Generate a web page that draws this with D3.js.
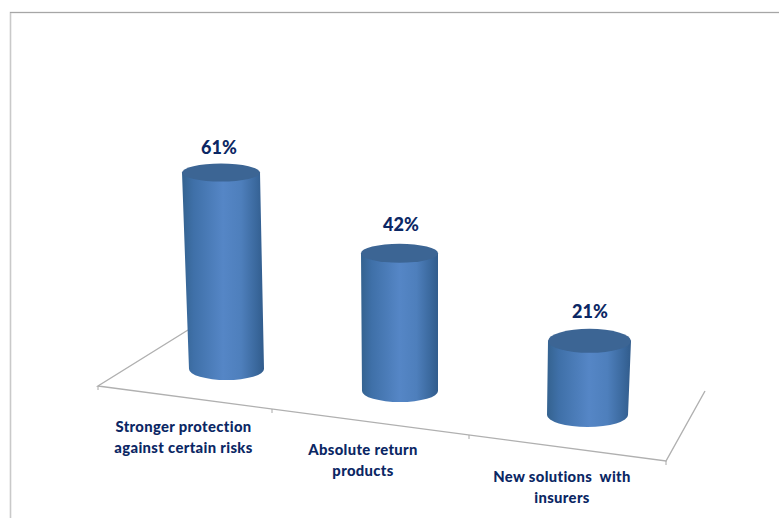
<!DOCTYPE html>
<html><head><meta charset="utf-8">
<script src="https://cdn.jsdelivr.net/npm/d3@7"></script>
<style>html,body{margin:0;padding:0;background:#fff}svg{display:block}</style>
</head><body><svg id="c" width="779" height="518"></svg>
<script>
const categoryLines = [["Stronger protection","against certain risks"],["Absolute return","products"],["New solutions  with","insurers"]];
const shares = [61,42,21];
const shareLabels = ["61%","42%","21%"];

const svg = d3.select("#c");
const idx = [0,1,2];
const baseX = d3.scaleLinear().domain(idx).range([226.5,400,587.5]);
const baseY = d3.scaleLinear().domain(idx).range([369,391,415]);
const topX = d3.scaleLinear().domain(idx).range([221,399.5,589.5]);
const unit = d3.scaleLinear().domain(idx).range([3.22,3.28,3.53]);
const topRx = d3.scaleLinear().domain(idx).range([39,38.5,41.5]);
const botRx = d3.scaleLinear().domain(idx).range([37.5,38,40.5]);
const topRy = d3.scaleLinear().domain(idx).range([9,9.5,12]);
const botRy = d3.scaleLinear().domain(idx).range([11,11,12]);
const yFor = i => d3.scaleLinear().domain([0,100]).range([baseY(i), baseY(i)-100*unit(i)]);

const defs = svg.append("defs");
const g = defs.append("linearGradient").attr("id","cyl");
[[0,"#34628f"],[0.14,"#3f70a8"],[0.5,"#5586c6"],[0.72,"#4e7fbc"],[0.9,"#3b699e"],[1,"#315c8c"]].forEach(s=>g.append("stop").attr("offset",s[0]).attr("stop-color",s[1]));

// chart frame
svg.append("path").attr("d","M10.5,518V12.5H779").attr("fill","none").attr("stroke","#c9c9c9").attr("stroke-width",1.6);
svg.append("path").attr("d","M10,12.5H779").attr("fill","none").attr("stroke","#a6a6a6").attr("stroke-width",1);

// floor
const floor = [[188,330],[98,386],[666,461],[705,391]];
svg.append("path").attr("d",d3.line()(floor)).attr("fill","none").attr("stroke","#b0b0b0").attr("stroke-width",1.4);
const ticks = [[98,386],[272,409],[469,435],[666,461]];
svg.selectAll("line.t").data(ticks).join("line").attr("class","t")
  .attr("x1",d=>d[0]).attr("x2",d=>d[0]).attr("y1",d=>d[1]).attr("y2",d=>d[1]+4)
  .attr("stroke","#a8a8a8").attr("stroke-width",1);

const bars = svg.selectAll("g.b").data(shares).join("g").attr("class","b");
bars.append("path").attr("fill","url(#cyl)").attr("d",(d,i)=>{
  const ty=yFor(i)(d), by=yFor(i)(0), tx=topX(i), bx=baseX(i), tr=topRx(i), br=botRx(i), b=botRy(i);
  return `M${tx-tr},${ty}L${bx-br},${by}A${br},${b} 0 0 0 ${bx+br},${by}L${tx+tr},${ty}Z`;
});
bars.append("ellipse").attr("fill","#3c6594")
  .attr("cx",(d,i)=>topX(i)).attr("cy",(d,i)=>yFor(i)(d))
  .attr("rx",(d,i)=>topRx(i)).attr("ry",(d,i)=>topRy(i));

const font = "Lato, 'Open Sans', sans-serif", ink="#0b2764";
const valX = d3.scaleLinear().domain(idx).range([219,401,590]);
const valGap = d3.scaleLinear().domain(idx).range([19,22,23]);
svg.selectAll("text.v").data(shareLabels).join("text").attr("class","v")
  .attr("x",(d,i)=>valX(i)).attr("y",(d,i)=>yFor(i)(shares[i])-valGap(i))
  .attr("text-anchor","middle").attr("font-family",font).attr("font-weight",900)
  .attr("font-size",18).attr("fill",ink).text(d=>d);

const labX = d3.scaleLinear().domain(idx).range([183.5,363,562]);
const labY = d3.scaleLinear().domain(idx).range([432,455,482]);
categoryLines.forEach((ls,i)=>ls.forEach((l,j)=>{
  svg.append("text").attr("x",labX(i)).attr("y",labY(i)+j*21).attr("text-anchor","middle")
   .style("white-space","pre").style("letter-spacing","0.35px")
   .attr("font-family",font).attr("font-weight",900).attr("font-size",14.8).attr("fill",ink).text(l);
}));
</script></body></html>
